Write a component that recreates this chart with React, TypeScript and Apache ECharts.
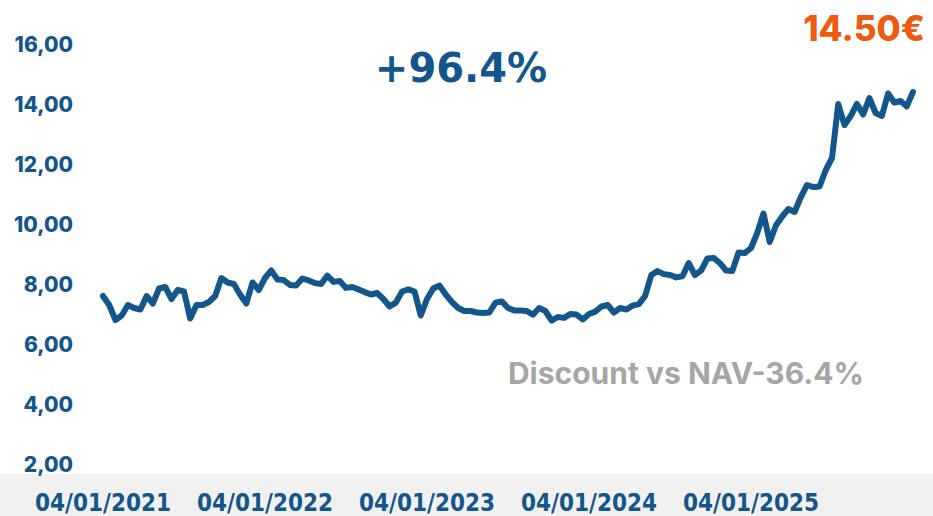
import React, { useEffect, useRef } from "react";
import * as echarts from "echarts";

// Year tick labels (one every 26 bi-weekly steps)
const yearLabels = ["04/01/2021", "04/01/2022", "04/01/2023", "04/01/2024", "04/01/2025"];
const stepsPerYear = 26;

// Share price, bi-weekly readings from 04/01/2021
const prices2021 = [
  7.6, 7.3, 6.8, 6.95, 7.3, 7.2, 7.15, 7.6, 7.35, 7.85, 7.9, 7.5, 7.8, 7.75,
  6.85, 7.3, 7.3, 7.4, 7.6, 8.2, 8.05, 8.0, 7.65, 7.35, 8.05, 7.8,
];
const prices2022 = [
  8.2, 8.45, 8.15, 8.13, 7.97, 7.95, 8.18, 8.12, 8.03, 8.0, 8.28, 8.07, 8.1,
  7.87, 7.9, 7.82, 7.73, 7.65, 7.7, 7.5, 7.25, 7.38, 7.75, 7.82, 7.75, 6.95,
];
const prices2023 = [
  7.5, 7.85, 7.95, 7.65, 7.4, 7.2, 7.1, 7.1, 7.05, 7.03, 7.05, 7.38, 7.42,
  7.2, 7.12, 7.12, 7.1, 6.98, 7.2, 7.1, 6.78, 6.9, 6.87, 7.0, 6.98, 6.82,
];
const prices2024 = [
  7.0, 7.08, 7.25, 7.3, 7.05, 7.2, 7.15, 7.28, 7.33, 7.6, 8.3, 8.43, 8.33,
  8.3, 8.22, 8.26, 8.7, 8.3, 8.45, 8.85, 8.87, 8.7, 8.45, 8.43, 9.05, 9.03,
];
const prices2025 = [
  9.2, 9.7, 10.35, 9.4, 9.95, 10.25, 10.5, 10.4, 10.9, 11.3, 11.23, 11.25,
  11.8, 12.2, 14.0, 13.3, 13.6, 14.0, 13.65, 14.2, 13.7, 13.6, 14.35, 14.05,
  14.1, 13.92, 14.4,
];

const yTicks = { min: 2, max: 16, interval: 2 };

const headline = "+96.4%";
const lastPrice = "14.50€";
const discountText = "Discount vs NAV-36.4%";

const BLUE = "#13568C";

export default function App() {
  const ref = useRef<HTMLDivElement>(null);

  useEffect(() => {
    if (!ref.current) return;
    const chart = echarts.init(ref.current, null, { renderer: "svg" });
    const values = [...prices2021, ...prices2022, ...prices2023, ...prices2024, ...prices2025];
    const categories = values.map((_, i) =>
      i % stepsPerYear === 0 && yearLabels[i / stepsPerYear] ? yearLabels[i / stepsPerYear] : ""
    );

    chart.setOption({
      animation: false,
      backgroundColor: "#ffffff",
      grid: { left: 103, right: 20, top: 44, bottom: 52, containLabel: false },
      xAxis: {
        type: "category",
        data: categories,
        boundaryGap: false,
        axisLine: { show: false },
        axisTick: { show: false },
        splitLine: { show: false },
        axisLabel: {
          interval: 0,
          margin: 27,
          color: BLUE,
          fontFamily: "'DejaVu Sans Condensed', 'Liberation Sans Narrow', 'DejaVu Sans', sans-serif",
          fontWeight: "bold",
          fontSize: 24,
        },
      },
      yAxis: {
        type: "value",
        min: yTicks.min,
        max: yTicks.max,
        interval: yTicks.interval,
        axisLine: { show: false },
        axisTick: { show: false },
        splitLine: { show: false },
        axisLabel: {
          margin: 30,
          color: BLUE,
          fontFamily: "Inter, 'Noto Sans', sans-serif",
          fontWeight: 800,
          fontSize: 21,
          formatter: (v: number) => v.toFixed(2).replace(".", ","),
        },
      },
      graphic: [
        {
          type: "rect",
          z: -10,
          shape: { x: 0, y: 474, width: 933, height: 42 },
          style: { fill: "#F1F1F1" },
        },
        {
          type: "text",
          x: 461,
          y: 68,
          style: {
            text: headline,
            fill: BLUE,
            font: "bold 40px 'DejaVu Sans', sans-serif",
            textAlign: "center",
            textVerticalAlign: "middle",
          },
        },
        {
          type: "text",
          x: 925,
          y: 28,
          style: {
            text: lastPrice,
            fill: "#EE5A12",
            font: "800 35px Inter, sans-serif",
            textAlign: "right",
            textVerticalAlign: "middle",
          },
        },
        {
          type: "text",
          x: 686,
          y: 373,
          style: {
            text: discountText,
            fill: "#A6A6A6",
            font: "bold 30px Inter, sans-serif",
            textAlign: "center",
            textVerticalAlign: "middle",
          },
        },
      ],
      series: [
        {
          type: "line",
          data: values,
          symbol: "none",
          lineStyle: { color: BLUE, width: 6, join: "round", cap: "round" },
        },
      ],
    });
    return () => chart.dispose();
  }, []);

  return (
    <div
      ref={ref}
      style={{ position: "fixed", left: 0, top: 0, width: 933, height: 516 }}
    />
  );
}
